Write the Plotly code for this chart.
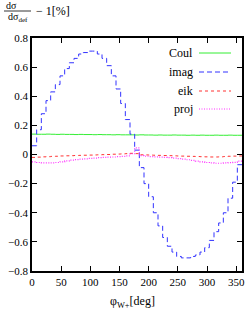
import plotly.graph_objects as go

# ---- data (bin edges 0..360 step 8 deg; values per bin) ----
phi_edges = [0, 8, 16, 24, 32, 40, 48, 56, 64, 72, 80, 88, 96, 104, 112, 120,
             128, 136, 144, 152, 160, 168, 176, 184, 192, 200, 208, 216, 224,
             232, 240, 248, 256, 264, 272, 280, 288, 296, 304, 312, 320, 328,
             336, 344, 352, 360]

coul = [0.140, 0.139, 0.139, 0.140, 0.139, 0.138, 0.139, 0.138, 0.138, 0.137,
        0.138, 0.137, 0.137, 0.136, 0.137, 0.136, 0.136, 0.135, 0.136, 0.135,
        0.135, 0.135, 0.134, 0.135, 0.134, 0.134, 0.133, 0.134, 0.133, 0.133,
        0.134, 0.133, 0.133, 0.132, 0.133, 0.132, 0.133, 0.132, 0.132, 0.133,
        0.132, 0.132, 0.133, 0.132, 0.132]

imag = [0.06, 0.17, 0.28, 0.37, 0.43, 0.48, 0.54, 0.59, 0.63, 0.66,
        0.69, 0.70, 0.71, 0.71, 0.69, 0.66, 0.61, 0.54, 0.45, 0.35,
        0.24, 0.14, 0.03, -0.09, -0.20, -0.29, -0.40, -0.49, -0.57, -0.63,
        -0.67, -0.70, -0.71, -0.71, -0.70, -0.69, -0.67, -0.64, -0.59, -0.53,
        -0.47, -0.40, -0.30, -0.19, -0.07]

eik = [-0.020, -0.018, -0.016, -0.015, -0.013, -0.012, -0.010, -0.009, -0.008, -0.007,
       -0.006, -0.005, -0.004, -0.003, -0.002, -0.001, 0.000, 0.002, 0.003, 0.004,
       0.006, 0.008, 0.006, -0.002, -0.003, -0.004, -0.005, -0.006, -0.007, -0.008,
       -0.009, -0.010, -0.011, -0.012, -0.013, -0.014, -0.015, -0.016, -0.017, -0.017,
       -0.016, -0.014, -0.012, -0.011, -0.010]

proj = [-0.050, -0.055, -0.058, -0.058, -0.057, -0.055, -0.050, -0.044, -0.038, -0.035,
        -0.032, -0.030, -0.027, -0.025, -0.022, -0.020, -0.018, -0.017, -0.015, -0.013,
        -0.010, 0.005, 0.045, -0.008, -0.012, -0.014, -0.016, -0.018, -0.020, -0.022,
        -0.025, -0.028, -0.032, -0.036, -0.040, -0.045, -0.050, -0.055, -0.058, -0.060,
        -0.060, -0.058, -0.056, -0.054, -0.045]

series_names = ["Coul", "imag", "eik", "proj"]
series_values = [coul, imag, eik, proj]

x_tickvals = [0, 50, 100, 150, 200, 250, 300, 350]
x_ticktext = ["0", "50", "100", "150", "200", "250", "300", "350"]
y_tickvals = [0.8, 0.6, 0.4, 0.2, 0, -0.2, -0.4, -0.6, -0.8]
y_ticktext = ["0.8", "0.6", "0.4", "0.2", "0", "\u22120.2", "\u22120.4", "\u22120.6", "\u22120.8"]

# ---- styles ----
styles = {
    "Coul": dict(color="#33ee33", dash="solid", width=1),
    "imag": dict(color="#3333ff", dash="5px,3px", width=1),
    "eik": dict(color="#ff3333", dash="3px,3px", width=1),
    "proj": dict(color="#ff33ff", dash="1px,1.5px", width=1.2),
}
FONT = "Liberation Serif, DejaVu Serif, serif"

fig = go.Figure()
for name, vals in zip(series_names, series_values):
    fig.add_trace(go.Scatter(
        x=phi_edges, y=vals + [vals[-1]], mode="lines", name=name,
        line=dict(shape="hv", **styles[name]), showlegend=False,
        hoverinfo="skip"))

W, H = 247, 313
L, R, T, B = 32, 5, 38, 42
pw, ph = W - L - R, H - T - B

def px(xp):
    return (xp - L) / pw

def py(yp):
    return (H - B - yp) / ph

annotations = []
shapes = []
# manual legend: text left, sample line right
leg_y = [53, 72, 91, 109]
for name, ly in zip(series_names, leg_y):
    annotations.append(dict(x=px(195), y=py(ly), xref="paper", yref="paper",
                            text=name, showarrow=False, xanchor="right", yanchor="middle",
                            font=dict(family=FONT, size=12, color="black")))
    st = styles[name]
    shapes.append(dict(type="line", xref="paper", yref="paper",
                       x0=px(199), x1=px(231), y0=py(ly), y1=py(ly),
                       line=dict(color=st["color"], dash=st["dash"], width=st["width"])))

# y title: d sigma / d sigma_def - 1[%]
annotations.append(dict(x=px(11), y=py(5), xref="paper", yref="paper", text="d\u03c3",
                        showarrow=False, xanchor="center", yanchor="middle",
                        font=dict(family=FONT, size=10, color="black")))
shapes.append(dict(type="line", xref="paper", yref="paper", x0=px(4), x1=px(31),
                   y0=py(11), y1=py(11), line=dict(color="black", width=0.8)))
annotations.append(dict(x=px(17.5), y=py(17.5), xref="paper", yref="paper",
                        text="d\u03c3<sub>def</sub>",
                        showarrow=False, xanchor="center", yanchor="middle",
                        font=dict(family=FONT, size=10, color="black")))
annotations.append(dict(x=px(34), y=py(11), xref="paper", yref="paper",
                        text="\u2212 1[%]",
                        showarrow=False, xanchor="left", yanchor="middle",
                        font=dict(family=FONT, size=12, color="black")))
# x title
annotations.append(dict(x=px(132), y=py(302), xref="paper", yref="paper",
                        text="\u03c6<sub>W+</sub>[deg]",
                        showarrow=False, xanchor="center", yanchor="middle",
                        font=dict(family=FONT, size=12, color="black")))

axis_common = dict(showline=True, linecolor="black", linewidth=1.5, mirror="ticks",
                   ticks="inside", ticklen=5, tickwidth=1, tickcolor="black",
                   showgrid=False, zeroline=False, automargin=False,
                   tickfont=dict(family=FONT, size=11, color="black"))

fig.update_layout(
    template="none",
    width=W, height=H,
    margin=dict(l=L, r=R, t=T, b=B, pad=0, autoexpand=False),
    paper_bgcolor="white", plot_bgcolor="white",
    font=dict(family=FONT, color="black"),
    xaxis=dict(range=[0, 360], tickmode="array", tickvals=x_tickvals,
               ticktext=x_ticktext, **axis_common),
    yaxis=dict(range=[-0.8, 0.8], tickmode="array", tickvals=y_tickvals,
               ticktext=y_ticktext, **axis_common),
    annotations=annotations, shapes=shapes, showlegend=False,
)

fig.write_html("out.html", config={"displayModeBar": False},
               post_script="document.body.style.margin='0';document.body.style.overflow='hidden';")
